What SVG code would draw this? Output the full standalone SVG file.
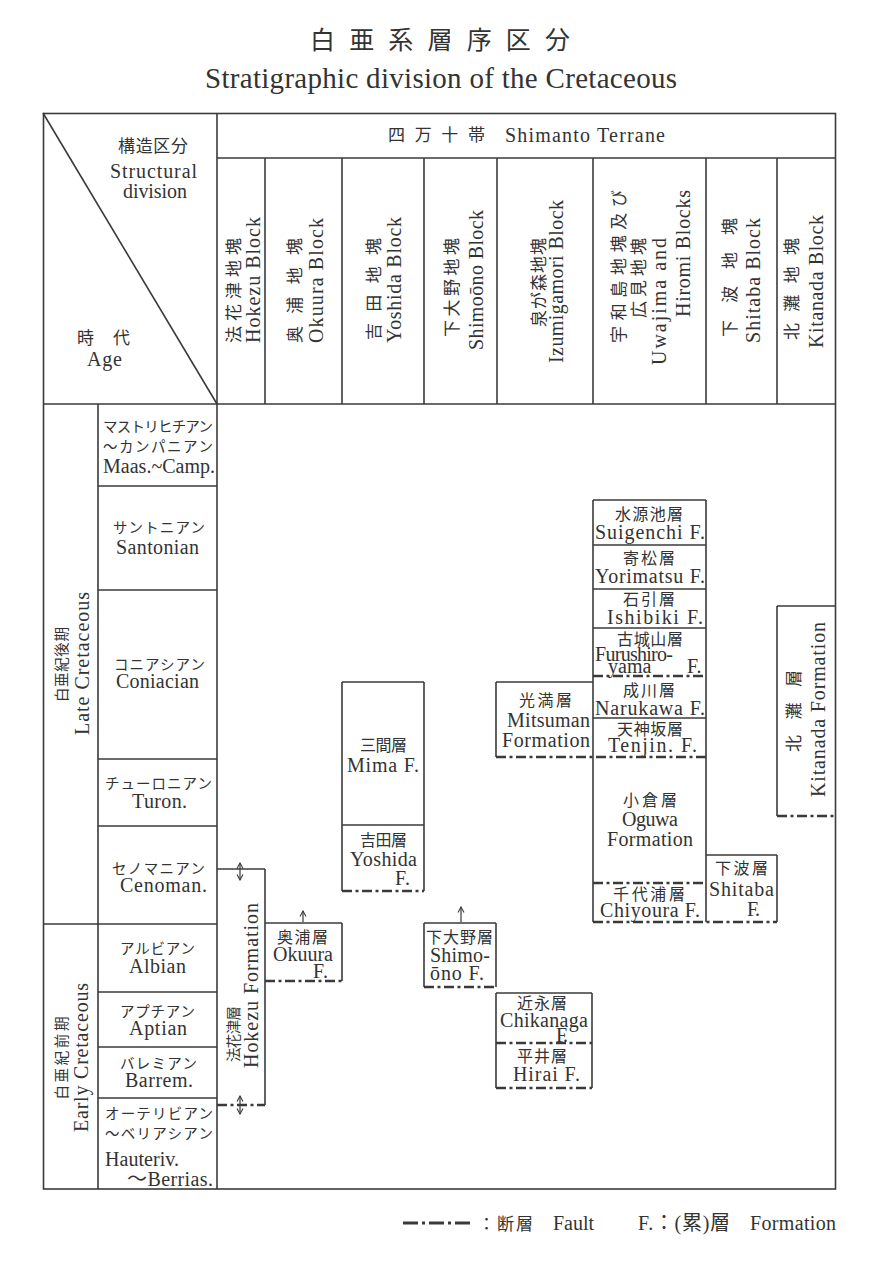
<svg xmlns="http://www.w3.org/2000/svg" width="882" height="1274" viewBox="0 0 882 1274">
<style>
.l{stroke:#3a3a3a;stroke-width:1.6;fill:none}
.f{stroke:#3a3a3a;stroke-width:2.6;fill:none;stroke-dasharray:10 3.5 3 3.5}
.a{stroke:#3a3a3a;stroke-width:1.2;fill:none}
text{font-family:"Liberation Serif","Noto Sans CJK JP",serif;fill:#333;font-size:20px}
.j{font-size:17px}
.b{font-size:16px}
.k{font-size:14.5px}
.m{text-anchor:middle}
.e{text-anchor:end}
</style>
<defs>
<marker id="ah" viewBox="0 0 8 8" refX="7" refY="4" markerWidth="8" markerHeight="8" markerUnits="userSpaceOnUse" orient="auto-start-reverse">
<path d="M1.5,1 L7,4 L1.5,7" fill="none" stroke="#3a3a3a" stroke-width="1.1"/>
</marker>
</defs>
<rect width="882" height="1274" fill="#fff"/>

<g id="title">
<text class="m" x="440" y="49" style="font-size:25px" textLength="260" lengthAdjust="spacing">白 亜 系 層 序 区 分</text>
<text class="m" x="441" y="88" style="font-size:29px" textLength="472" lengthAdjust="spacing">Stratigraphic division of the Cretaceous</text>
</g>

<g id="frame">
<rect class="l" x="43.5" y="113.5" width="792" height="1075.5"/>
<line class="l" x1="217" y1="158" x2="836" y2="158"/>
<line class="l" x1="43" y1="404" x2="836" y2="404"/>
<line class="l" x1="217" y1="113" x2="217" y2="1189"/>
<line class="l" x1="98" y1="404" x2="98" y2="1189"/>
<line class="l" x1="43" y1="113" x2="217" y2="404"/>
<line class="l" x1="265" y1="158" x2="265" y2="404"/>
<line class="l" x1="342" y1="158" x2="342" y2="404"/>
<line class="l" x1="424" y1="158" x2="424" y2="404"/>
<line class="l" x1="497" y1="158" x2="497" y2="404"/>
<line class="l" x1="593" y1="158" x2="593" y2="404"/>
<line class="l" x1="706" y1="158" x2="706" y2="404"/>
<line class="l" x1="777" y1="158" x2="777" y2="404"/>
<line class="l" x1="98" y1="486" x2="217" y2="486"/>
<line class="l" x1="98" y1="590" x2="217" y2="590"/>
<line class="l" x1="98" y1="759" x2="217" y2="759"/>
<line class="l" x1="98" y1="826" x2="217" y2="826"/>
<line class="l" x1="43" y1="924" x2="217" y2="924"/>
<line class="l" x1="98" y1="992" x2="217" y2="992"/>
<line class="l" x1="98" y1="1047" x2="217" y2="1047"/>
<line class="l" x1="98" y1="1098" x2="217" y2="1098"/>
</g>

<g id="corner-labels">
<text class="j m" x="153" y="152" textLength="70" lengthAdjust="spacing">構造区分</text>
<text class="m" x="153.5" y="178" textLength="87" lengthAdjust="spacing">Structural</text>
<text class="m" x="155" y="198" textLength="64" lengthAdjust="spacing">division</text>
<text class="j m" x="103.5" y="344" textLength="53" lengthAdjust="spacing">時 代</text>
<text class="m" x="104.5" y="366" textLength="35" lengthAdjust="spacing">Age</text>
</g>

<g id="terrane">
<text class="j" x="388" y="141" textLength="97" lengthAdjust="spacing">四 万 十 帯</text>
<text x="505" y="142" textLength="160" lengthAdjust="spacing">Shimanto Terrane</text>
</g>

<g id="block-hokezu">
<text class="j m" transform="translate(240,290.5) rotate(-90)" textLength="105" lengthAdjust="spacing">法花津地塊</text>
<text class="m" transform="translate(260,280) rotate(-90)" textLength="126" lengthAdjust="spacing">Hokezu Block</text>
</g>
<g id="block-okuura">
<text class="j m" transform="translate(301,290.5) rotate(-90)" textLength="105" lengthAdjust="spacing">奥 浦 地 塊</text>
<text class="m" transform="translate(323,280.5) rotate(-90)" textLength="125" lengthAdjust="spacing">Okuura Block</text>
</g>
<g id="block-yoshida">
<text class="j m" transform="translate(380,289) rotate(-90)" textLength="102" lengthAdjust="spacing">吉 田 地 塊</text>
<text class="m" transform="translate(401,280) rotate(-90)" textLength="126" lengthAdjust="spacing">Yoshida Block</text>
</g>
<g id="block-shimoono">
<text class="j m" transform="translate(458,287.5) rotate(-90)" textLength="99" lengthAdjust="spacing">下大野地塊</text>
<text class="m" transform="translate(483,280) rotate(-90)" textLength="140" lengthAdjust="spacing">Shimoōno Block</text>
</g>
<g id="block-izumigamori">
<text class="j m" transform="translate(545,282.5) rotate(-90)" textLength="89" lengthAdjust="spacing">泉が森地塊</text>
<text class="m" transform="translate(563,281.5) rotate(-90)" textLength="163" lengthAdjust="spacing">Izumigamori Block</text>
</g>
<g id="block-uwajima">
<text class="j m" transform="translate(625,266.5) rotate(-90)" textLength="153" lengthAdjust="spacing">宇和島地塊及び</text>
<text class="j m" transform="translate(645,278) rotate(-90)" textLength="80" lengthAdjust="spacing">広 見 地 塊</text>
<text class="m" transform="translate(666,301.5) rotate(-90)" textLength="127" lengthAdjust="spacing">Uwajima  and</text>
<text class="m" transform="translate(690,253.5) rotate(-90)" textLength="127" lengthAdjust="spacing">Hiromi Blocks</text>
</g>
<g id="block-shitaba">
<text class="j m" transform="translate(736,277.5) rotate(-90)" textLength="119" lengthAdjust="spacing">下 波 地 塊</text>
<text class="m" transform="translate(760,280.5) rotate(-90)" textLength="125" lengthAdjust="spacing">Shitaba Block</text>
</g>
<g id="block-kitanada">
<text class="j m" transform="translate(798,289) rotate(-90)" textLength="102" lengthAdjust="spacing">北 灘 地 塊</text>
<text class="m" transform="translate(823,281.5) rotate(-90)" textLength="133" lengthAdjust="spacing">Kitanada Block</text>
</g>

<g id="era-late">
<text class="k m" transform="translate(67,664.5) rotate(-90)" textLength="75" lengthAdjust="spacing">白亜紀後期</text>
<text class="m" transform="translate(89,663.5) rotate(-90)" textLength="143" lengthAdjust="spacing">Late Cretaceous</text>
</g>
<g id="era-early">
<text class="k m" transform="translate(67,1058) rotate(-90)" textLength="83" lengthAdjust="spacing">白亜紀前期</text>
<text class="m" transform="translate(88,1057.5) rotate(-90)" textLength="149" lengthAdjust="spacing">Early Cretaceous</text>
</g>

<g id="stage-maastrichtian">
<text class="k m" x="158" y="432" textLength="110" lengthAdjust="spacing">マストリヒチアン</text>
<text class="k m" x="158" y="452" textLength="110" lengthAdjust="spacing">～カンパニアン</text>
<text class="m" x="159" y="473" textLength="112" lengthAdjust="spacing">Maas.~Camp.</text>
</g>
<g id="stage-santonian">
<text class="k m" x="159" y="533" textLength="92" lengthAdjust="spacing">サントニアン</text>
<text class="m" x="157.5" y="554" textLength="83" lengthAdjust="spacing">Santonian</text>
</g>
<g id="stage-coniacian">
<text class="k m" x="159.5" y="670" textLength="91" lengthAdjust="spacing">コニアシアン</text>
<text class="m" x="157.5" y="688" textLength="83" lengthAdjust="spacing">Coniacian</text>
</g>
<g id="stage-turonian">
<text class="k m" x="158.5" y="789" textLength="107" lengthAdjust="spacing">チューロニアン</text>
<text class="m" x="159.5" y="808" textLength="55" lengthAdjust="spacing">Turon.</text>
</g>
<g id="stage-cenomanian">
<text class="k m" x="158.5" y="874" textLength="93" lengthAdjust="spacing">セノマニアン</text>
<text class="m" x="163.5" y="892" textLength="87" lengthAdjust="spacing">Cenoman.</text>
</g>
<g id="stage-albian">
<text class="k m" x="157.5" y="954" textLength="75" lengthAdjust="spacing">アルビアン</text>
<text class="m" x="157.5" y="973" textLength="57" lengthAdjust="spacing">Albian</text>
</g>
<g id="stage-aptian">
<text class="k m" x="157.5" y="1017" textLength="75" lengthAdjust="spacing">アプチアン</text>
<text class="m" x="158" y="1035" textLength="58" lengthAdjust="spacing">Aptian</text>
</g>
<g id="stage-barremian">
<text class="k m" x="158.5" y="1069" textLength="77" lengthAdjust="spacing">バレミアン</text>
<text class="m" x="159" y="1087" textLength="68" lengthAdjust="spacing">Barrem.</text>
</g>
<g id="stage-hauterivian">
<text class="k m" x="159" y="1119" textLength="108" lengthAdjust="spacing">オーテリビアン</text>
<text class="k m" x="159" y="1139" textLength="108" lengthAdjust="spacing">～ベリアシアン</text>
<text x="105" y="1166" textLength="74" lengthAdjust="spacing">Hauteriv.</text>
<text class="e" x="213" y="1186" textLength="86" lengthAdjust="spacing">～Berrias.</text>
</g>

<g id="fm-hokezu">
<line class="l" x1="217" y1="869" x2="265" y2="869"/>
<line class="l" x1="265" y1="869" x2="265" y2="1105"/>
<line class="f" x1="217" y1="1105" x2="265" y2="1105"/>
<text class="k m" transform="translate(239,1034) rotate(-90)" textLength="56" lengthAdjust="spacing">法花津層</text>
<text class="m" transform="translate(258,985.5) rotate(-90)" textLength="165" lengthAdjust="spacing">Hokezu Formation</text>
</g>

<g id="fm-okuura">
<line class="l" x1="265" y1="923" x2="342" y2="923"/>
<line class="l" x1="342" y1="923" x2="342" y2="981"/>
<line class="f" x1="265" y1="981" x2="342" y2="981"/>
<text class="b m" x="302.5" y="943" textLength="51" lengthAdjust="spacing">奥浦層</text>
<text class="m" x="303" y="961" textLength="60" lengthAdjust="spacing">Okuura</text>
<text class="m" x="320.5" y="978" textLength="15" lengthAdjust="spacing">F.</text>
</g>

<g id="fm-mima">
<line class="l" x1="342" y1="682" x2="424" y2="682"/>
<line class="l" x1="342" y1="682" x2="342" y2="891"/>
<line class="l" x1="424" y1="682" x2="424" y2="891"/>
<text class="b m" x="383.5" y="751" textLength="47" lengthAdjust="spacing">三間層</text>
<text class="m" x="383" y="772" textLength="72" lengthAdjust="spacing">Mima  F.</text>
</g>
<g id="fm-yoshida">
<line class="l" x1="342" y1="825" x2="424" y2="825"/>
<line class="f" x1="342" y1="891" x2="424" y2="891"/>
<text class="b m" x="383.5" y="846" textLength="47" lengthAdjust="spacing">吉田層</text>
<text class="m" x="383.5" y="866" textLength="67" lengthAdjust="spacing">Yoshida</text>
<text class="m" x="402.5" y="885" textLength="15" lengthAdjust="spacing">F.</text>
</g>

<g id="fm-shimoono">
<line class="l" x1="424" y1="923" x2="496" y2="923"/>
<line class="l" x1="424" y1="923" x2="424" y2="987"/>
<line class="l" x1="496" y1="923" x2="496" y2="987"/>
<line class="f" x1="424" y1="987" x2="496" y2="987"/>
<text class="b m" x="459.5" y="943" textLength="67" lengthAdjust="spacing">下大野層</text>
<text x="430" y="962" textLength="60" lengthAdjust="spacing">Shimo-</text>
<text x="430" y="980" textLength="54" lengthAdjust="spacing">ōno  F.</text>
</g>

<g id="fm-mitsuman">
<line class="l" x1="496" y1="682" x2="593" y2="682"/>
<line class="l" x1="496" y1="682" x2="496" y2="757"/>
<text class="b m" x="545.5" y="706" textLength="53" lengthAdjust="spacing">光満層</text>
<text class="m" x="548.5" y="727" textLength="83" lengthAdjust="spacing">Mitsuman</text>
<text class="m" x="546" y="747" textLength="88" lengthAdjust="spacing">Formation</text>
</g>

<g id="fm-chikanaga">
<line class="l" x1="496" y1="993" x2="592" y2="993"/>
<line class="l" x1="496" y1="993" x2="496" y2="1088"/>
<line class="l" x1="592" y1="993" x2="592" y2="1088"/>
<text class="b m" x="542" y="1009" textLength="50" lengthAdjust="spacing">近永層</text>
<text class="m" x="544" y="1027" textLength="88" lengthAdjust="spacing">Chikanaga</text>
<text class="m" x="562" y="1042" textLength="12" lengthAdjust="spacing">F.</text>
</g>
<g id="fm-hirai">
<line class="f" x1="496" y1="1043" x2="592" y2="1043"/>
<line class="f" x1="496" y1="1088" x2="592" y2="1088"/>
<text class="b m" x="542" y="1062" textLength="50" lengthAdjust="spacing">平井層</text>
<text class="m" x="546.5" y="1081" textLength="67" lengthAdjust="spacing">Hirai  F.</text>
</g>

<g id="uwajima-stack">
<line class="l" x1="593" y1="500" x2="706" y2="500"/>
<line class="l" x1="593" y1="500" x2="593" y2="922"/>
<line class="l" x1="706" y1="500" x2="706" y2="922"/>
</g>
<g id="fm-suigenchi">
<line class="l" x1="593" y1="545" x2="706" y2="545"/>
<text class="b m" x="649" y="520" textLength="68" lengthAdjust="spacing">水源池層</text>
<text class="m" x="650" y="539" textLength="110" lengthAdjust="spacing">Suigenchi  F.</text>
</g>
<g id="fm-yorimatsu">
<line class="l" x1="593" y1="589" x2="706" y2="589"/>
<text class="b m" x="649" y="564" textLength="52" lengthAdjust="spacing">寄松層</text>
<text class="m" x="650" y="583" textLength="110" lengthAdjust="spacing">Yorimatsu F.</text>
</g>
<g id="fm-ishibiki">
<line class="l" x1="593" y1="628" x2="706" y2="628"/>
<text class="b m" x="649" y="605" textLength="52" lengthAdjust="spacing">石引層</text>
<text class="m" x="655" y="624" textLength="96" lengthAdjust="spacing">Ishibiki  F.</text>
</g>
<g id="fm-furushiroyama">
<line class="f" x1="593" y1="676" x2="706" y2="676"/>
<text class="b m" x="650" y="645" textLength="66" lengthAdjust="spacing">古城山層</text>
<text x="595" y="661" textLength="78" lengthAdjust="spacing">Furushiro-</text>
<text x="608" y="673"><tspan>yama</tspan><tspan x="687">F.</tspan></text>
</g>
<g id="fm-narukawa">
<line class="l" x1="593" y1="718" x2="706" y2="718"/>
<text class="b m" x="649" y="696" textLength="52" lengthAdjust="spacing">成川層</text>
<text class="m" x="650" y="715" textLength="110" lengthAdjust="spacing">Narukawa F.</text>
</g>
<g id="fm-tenjin">
<line class="f" x1="496" y1="757" x2="706" y2="757"/>
<text class="b m" x="650" y="735" textLength="66" lengthAdjust="spacing">天神坂層</text>
<text class="m" x="652.5" y="752" textLength="89" lengthAdjust="spacing">Tenjin.  F.</text>
</g>
<g id="fm-oguwa">
<line class="f" x1="593" y1="883" x2="706" y2="883"/>
<text class="b m" x="650" y="806" textLength="54" lengthAdjust="spacing">小倉層</text>
<text class="m" x="650" y="826" textLength="56" lengthAdjust="spacing">Oguwa</text>
<text class="m" x="650" y="846" textLength="86" lengthAdjust="spacing">Formation</text>
</g>
<g id="fm-chiyoura">
<line class="f" x1="593" y1="922" x2="777" y2="922"/>
<text class="b m" x="649" y="900" textLength="72" lengthAdjust="spacing">千代浦層</text>
<text class="m" x="650" y="917" textLength="100" lengthAdjust="spacing">Chiyoura  F.</text>
</g>

<g id="fm-shitaba">
<line class="l" x1="706" y1="855" x2="777" y2="855"/>
<line class="l" x1="777" y1="855" x2="777" y2="922"/>
<text class="b m" x="741.5" y="874" textLength="53" lengthAdjust="spacing">下波層</text>
<text class="m" x="741.5" y="896" textLength="65" lengthAdjust="spacing">Shitaba</text>
<text class="m" x="753.5" y="916" textLength="13" lengthAdjust="spacing">F.</text>
</g>

<g id="fm-kitanada">
<line class="l" x1="777" y1="606" x2="836" y2="606"/>
<line class="l" x1="777" y1="606" x2="777" y2="816"/>
<line class="f" x1="777" y1="816" x2="836" y2="816"/>
<text class="j m" transform="translate(800,711) rotate(-90)" textLength="82" lengthAdjust="spacing">北 灘 層</text>
<text class="m" transform="translate(825,709.5) rotate(-90)" textLength="175" lengthAdjust="spacing">Kitanada Formation</text>
</g>

<g id="connectors">
<line class="a" x1="240" y1="863" x2="240" y2="880" marker-start="url(#ah)" marker-end="url(#ah)"/>
<line class="a" x1="240" y1="1096" x2="240" y2="1114" marker-start="url(#ah)" marker-end="url(#ah)"/>
<line class="a" x1="303" y1="922" x2="303" y2="911" marker-end="url(#ah)"/>
<line class="a" x1="461" y1="922" x2="461" y2="907" marker-end="url(#ah)"/>
</g>

<g id="legend">
<line x1="403" y1="1223" x2="470" y2="1223" stroke="#3a3a3a" stroke-width="3" stroke-dasharray="15 4 3 4"/>
<text class="j" x="478" y="1230" textLength="55" lengthAdjust="spacing">：断層</text>
<text x="553" y="1230" textLength="41" lengthAdjust="spacing">Fault</text>
<text x="638" y="1230" textLength="92" lengthAdjust="spacing">F.：(累)層</text>
<text x="750" y="1230" textLength="86" lengthAdjust="spacing">Formation</text>
</g>
</svg>
